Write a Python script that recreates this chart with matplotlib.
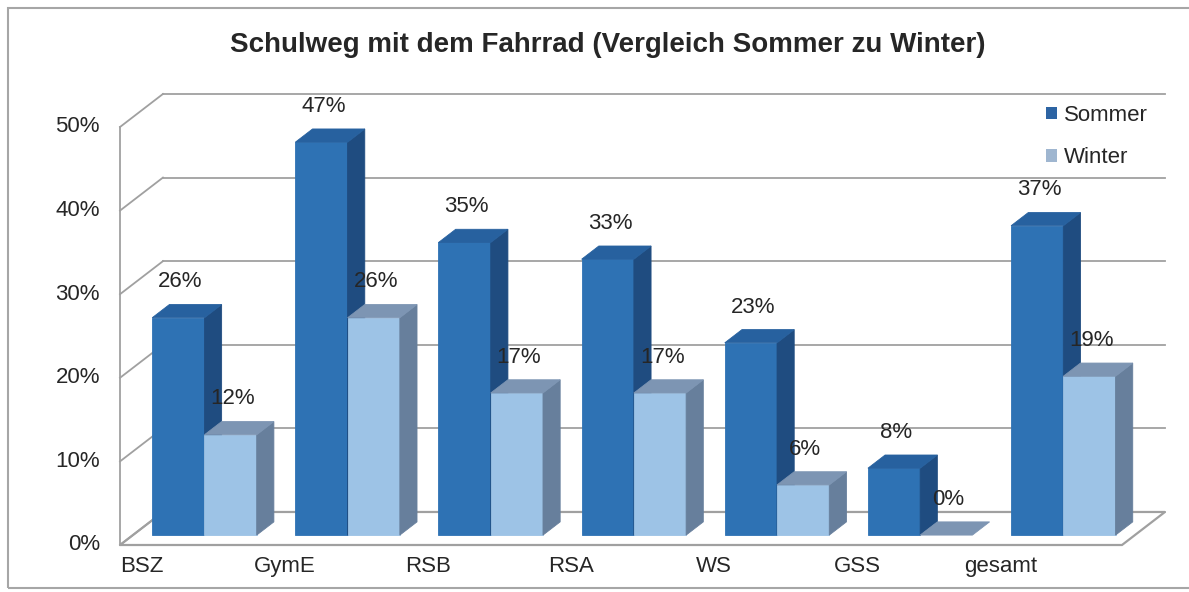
import matplotlib.pyplot as plt
from matplotlib.patches import Polygon, Rectangle, Patch

plt.rcParams["font.family"] = ["Liberation Sans", "DejaVu Sans"]

categories = ["BSZ", "GymE", "RSB", "RSA", "WS", "GSS", "gesamt"]
series = ["Sommer", "Winter"]
sommer = [26, 47, 35, 33, 23, 8, 37]
winter = [12, 26, 17, 17, 6, 0, 19]
y_ticks = [0, 10, 20, 30, 40, 50]
title = "Schulweg mit dem Fahrrad (Vergleich Sommer zu Winter)"

# Farben: Front, Seite, Deckel
colors = {
    "Sommer": ("#2e72b4", "#1f4c80", "#27619f"),
    "Winter": ("#9dc3e6", "#677f9c", "#7d95b3"),
}
legend_colors = {"Sommer": "#2d64a3", "Winter": "#9fb6d0"}

W, H = 1189, 592
DX, DY = 0.30, 3.95   # Tiefe der 3D-Wand (x in Kategorien, y in %)
F0, F1 = 0.30, 0.70   # Lage der Säulen in der Tiefe
GAP, BW = 0.135, 0.365
GRID = "#a0a0a0"
TXT = "#262626"
FS = 16

fig = plt.figure(figsize=(W / 100, H / 100), dpi=100)
ax = fig.add_axes([120 / W, (H - 545) / H, 1002 / W, 418 / H])
ax.set_xlim(0, len(categories))
ax.set_ylim(0, 50)
ax.axis("off")


def poly(pts, fc, z=3):
    ax.add_patch(Polygon(pts, closed=True, facecolor=fc, edgecolor=fc,
                         linewidth=0.6, clip_on=False, zorder=z))


n = len(categories)

# Boden
ax.add_patch(Polygon([(0, 0), (n, 0), (n + DX, DY), (DX, DY)], closed=True,
                     facecolor="white", edgecolor=GRID, linewidth=1.6,
                     clip_on=False, zorder=1))

# Rückwand und Seitenwand
for v in y_ticks:
    ax.plot([DX, n + DX], [v + DY, v + DY], color=GRID, lw=1.3, clip_on=False, zorder=1)
    ax.plot([0, DX], [v, v + DY], color=GRID, lw=1.3, clip_on=False, zorder=1)
    ax.text(-0.14, v, f"{v}%", ha="right", va="center", fontsize=FS, color=TXT)
ax.plot([0, 0], [0, 50], color=GRID, lw=1.3, clip_on=False, zorder=1)

# Säulen
data = {"Sommer": sommer, "Winter": winter}
for i in range(n):
    for j, name in enumerate(series):
        v = data[name][i]
        front, side, top = colors[name]
        x0 = i + GAP + j * BW
        x1 = x0 + BW
        a0, b0 = F0 * DX, F0 * DY
        a1, b1 = F1 * DX, F1 * DY
        if v > 0:
            poly([(x0 + a0, b0), (x1 + a0, b0), (x1 + a0, v + b0), (x0 + a0, v + b0)], front)
            poly([(x1 + a0, b0), (x1 + a1, b1), (x1 + a1, v + b1), (x1 + a0, v + b0)], side)
        poly([(x0 + a0, v + b0), (x1 + a0, v + b0), (x1 + a1, v + b1), (x0 + a1, v + b1)], top)
        ax.text((x0 + x1) / 2 + a0 + 0.05 * DX, v + b1 + 2.7, f"{v}%", ha="center",
                va="center", fontsize=FS, color=TXT, zorder=5)

for i, cat in enumerate(categories):
    ax.text(i + 0.15, -2.6, cat, ha="center", va="center", fontsize=FS, color=TXT)

handles = [Patch(facecolor=legend_colors[s], edgecolor="none") for s in series]
fig.legend(handles, series, loc="upper left", bbox_to_anchor=(1026 / W, 1 - 85 / H),
           frameon=False, handlelength=0.5, handleheight=0.5, handletextpad=0.3,
           labelspacing=0.95, fontsize=FS, labelcolor=TXT)

fig.text(608 / W, 1 - 45 / H, title, ha="center", va="center", fontsize=20,
         fontweight="bold", color=TXT)

# Rahmen
fig.add_artist(Rectangle((8 / W, 4 / H), 1.2, 1 - 12 / H, transform=fig.transFigure,
                         fill=False, edgecolor="#a6a6a6", linewidth=1.5))

fig.savefig("out.png", dpi=100)
